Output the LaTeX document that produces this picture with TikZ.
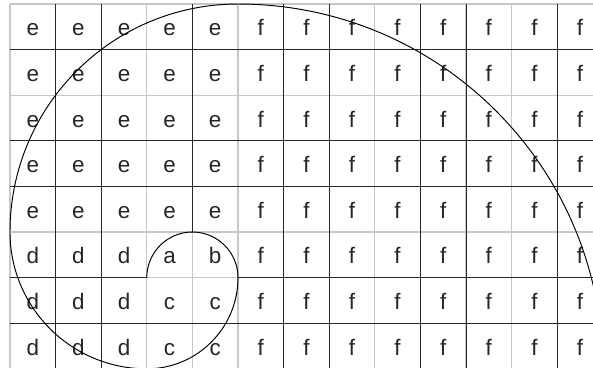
\documentclass[tikz,border=0pt]{standalone}
\usepackage{fontspec}
\setmainfont{Liberation Sans}
\usepackage{tikz}

\begin{document}
\begin{tikzpicture}[x=1cm,y=1cm,
    cellchar/.style={anchor=base,text=black!85,font=\fontsize{14}{16}\selectfont},
    faint/.style={black!22,line width=0.8pt},
    rule/.style={black!85,line width=0.6pt}]
  \useasboundingbox (-0.219,0.039) rectangle (12.785,8.088);
  \clip (-0.219,0.039) rectangle (12.785,8.088);
  % light grid underneath
  \draw[faint] (0,0) grid (13,8);
  % dark rules on top
  \foreach \k in {1,2,6,7,9,10,12} \draw[rule] (\k,0) -- (\k,8);
  \draw[rule] (4,3) -- (4,8);
  \foreach \k in {1,4,5,7} \draw[rule] (0,\k) -- (13,\k);
  \draw[rule] (0,2) -- (3,2);
  \draw[rule] (5,2) -- (13,2);
  % letters of the squares
  \foreach \i in {0,...,4} \foreach \j in {3,...,7}
    \node[cellchar] (e-\i-\j) at (\i+0.5,\j+0.3) {e};
  \foreach \i in {5,...,12} \foreach \j in {0,...,7}
    \node[cellchar] (f-\i-\j) at (\i+0.5,\j+0.3) {f};
  \foreach \i in {0,1,2} \foreach \j in {0,1,2}
    \node[cellchar] (d-\i-\j) at (\i+0.5,\j+0.3) {d};
  \foreach \i in {3,4} \foreach \j in {0,1}
    \node[cellchar] (c-\i-\j) at (\i+0.5,\j+0.3) {c};
  \node[cellchar] (a) at (3.5,2.3) {a};
  \node[cellchar] (b) at (4.5,2.3) {b};
  % spiral through the squares
  \draw[black,line width=0.6pt] (3,2)
    arc[start angle=180,end angle=0,radius=1]
    arc[start angle=0,end angle=-90,radius=2]
    arc[start angle=270,end angle=180,radius=3]
    arc[start angle=180,end angle=90,radius=5]
    arc[start angle=90,end angle=0,radius=8];
\end{tikzpicture}
\end{document}
